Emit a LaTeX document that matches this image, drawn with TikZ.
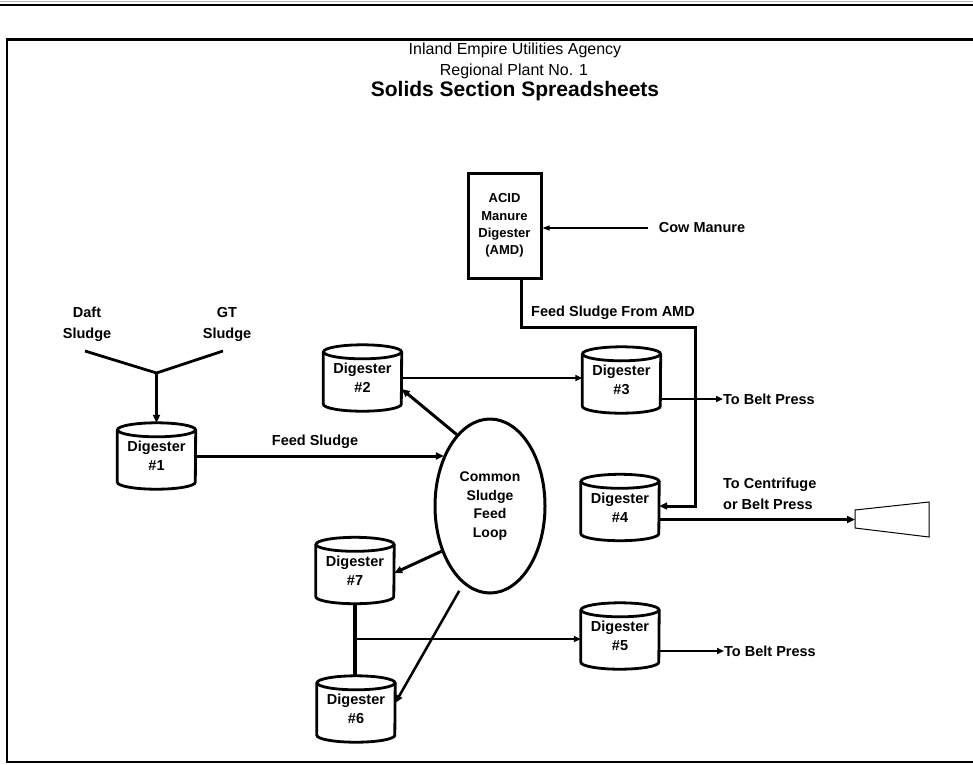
\documentclass[tikz,border=0pt]{standalone}
\usepackage{fontspec}
\setmainfont{Liberation Sans}
\usetikzlibrary{arrows.meta,shapes.geometric,calc}
\tikzset{
  lbl/.style={font=\bfseries\fontsize{14.5}{19}\selectfont, align=center, inner sep=0pt},
  dig/.style={lbl, minimum width=78pt, minimum height=66pt},
  cyl/.style={line width=2.8pt},
  thk/.style={line width=3pt, -{Triangle[length=8pt,width=7pt]}},
  mid/.style={line width=2pt, -{Triangle[length=7pt,width=6pt]}},
  thn/.style={line width=1.2pt, -{Triangle[length=7pt,width=5pt]}},
}
\begin{document}
\begin{tikzpicture}[x=1pt,y=1pt]
\useasboundingbox (0,0) rectangle (973,-764);
% frame
\draw[gray!60, line width=1pt] (0,-1.5) -- (973,-1.5);
\draw[line width=2pt] (0,-4.5) -- (973,-4.5);
\draw[line width=2.5pt] (985,-39.5) -- (7,-39.5) -- (7,-762) -- (985,-762);
% titles
\node[font=\fontsize{16}{19}\selectfont, inner sep=0pt] (t1) at (515,-50) {Inland Empire Utilities Agency};
\node[font=\fontsize{16}{19}\selectfont, inner sep=0pt] (t2) at (514,-71) {Regional Plant No. 1};
\node[font=\bfseries\fontsize{21}{24}\selectfont, inner sep=0pt] (t3) at (515,-91) {Solids Section Spreadsheets};
% digesters
\node[dig] (d1) at (156.5,-456) {Digester\\\#1};
\node[dig] (d2) at (362.5,-378) {Digester\\\#2};
\node[dig] (d3) at (621.5,-380) {Digester\\\#3};
\node[dig] (d4) at (620,-507.5) {Digester\\\#4};
\node[dig] (d5) at (620,-636) {Digester\\\#5};
\node[dig] (d7) at (355,-570.5) {Digester\\\#7};
\node[dig] (d6) at (356,-709) {Digester\\\#6};
\foreach \n in {d1,d2,d3,d4,d5,d6,d7}{
  \draw[cyl] ([yshift=-7pt]\n.north west) -- ([yshift=7pt]\n.south west)
     arc[start angle=180,end angle=360,x radius=39pt,y radius=7pt]
     -- ([yshift=-7pt]\n.north east);
  \draw[cyl] ([yshift=-7pt]\n.north) ellipse[x radius=39pt, y radius=7pt];
}
% common loop
\node[draw, ellipse, line width=3pt, minimum width=110pt, minimum height=174pt, inner sep=0pt,
      font=\bfseries\fontsize{14}{18.7}\selectfont, align=center] (loop) at (490,-506)
      {Common\\Sludge\\Feed\\Loop};
% AMD
\node[draw, line width=3pt, minimum width=73pt, minimum height=105pt, inner sep=0pt,
      font=\bfseries\fontsize{13}{17.3}\selectfont, align=center] (amd) at (504.5,-225.5)
      {ACID\\Manure\\Digester\\(AMD)};
\node[lbl] (cow) at (702,-228) {Cow Manure};
\draw[thn] ([xshift=-11pt]cow.west) -- (cow.west -| amd.east);
\coordinate (a1) at (521,-327);
\coordinate (a2) at (695,-327);
\node[lbl] (fam) at (613,-313) {Feed Sludge From AMD};
% inputs to digester 1
\node[lbl, font=\bfseries\fontsize{14.5}{21}\selectfont] (daft) at (87,-324.5) {Daft\\Sludge};
\node[lbl, font=\bfseries\fontsize{14.5}{21}\selectfont] (gt) at (227,-324.5) {GT\\Sludge};
\coordinate (ya) at (85,-351);
\coordinate (yb) at (223,-351);
\coordinate (yj) at (156.5,-373);
\draw[line width=2.8pt] (ya) -- (yj) -- (yb);
\draw[thk] (yj) -- (d1.north);
% feed sludge
\node[lbl] (fs) at (315,-442) {Feed Sludge};
\draw[thk] (d1.east) -- (d1.east -| loop.132);
% loop outputs
\draw[thk] (loop.115) -- ([yshift=-11pt]d2.east);
\draw[thk] (loop.223) -- ([yshift=-2.5pt]d7.east);
\draw[thk, line width=2.5pt, shorten <=8pt] (loop.251) -- ([yshift=6pt]d6.east);
% d2 -> d3
\draw[mid] (d2.east) -- (d2.east -| d3.west);
% AMD line to d4
\draw[thk] (amd.south -| a1) -- (a1) -- (a2) |- ([yshift=1.5pt]d4.east);
% d3 to belt press
\node[lbl, anchor=west] (bp1) at (723,-399) {To Belt Press};
\draw[mid] (d3.east |- bp1.west) -- (bp1.west);
% d4 to centrifuge
\node[lbl, align=left, anchor=west, font=\bfseries\fontsize{14.5}{21}\selectfont] (tc) at (723,-493.5) {To Centrifuge\\or Belt Press};
\draw[line width=1pt] (855,-510) -- (929,-502) -- (929,-537) -- (855,-528) -- cycle;
\coordinate (cf) at (855,-519.5);
\draw[thk] ([yshift=-12pt]d4.east) -- (cf);
% d7 - d6 - d5
\draw[line width=4pt] (d7.south) -- (d7.south |- d6.north);
\coordinate (j) at (d7.south |- 0,-639);
\draw[mid, line width=2.5pt] (j) -- (j -| d5.west);
\node[lbl, anchor=west] (bp2) at (724,-651) {To Belt Press};
\draw[mid] (d5.east |- bp2.west) -- (bp2.west);
\end{tikzpicture}
\end{document}
